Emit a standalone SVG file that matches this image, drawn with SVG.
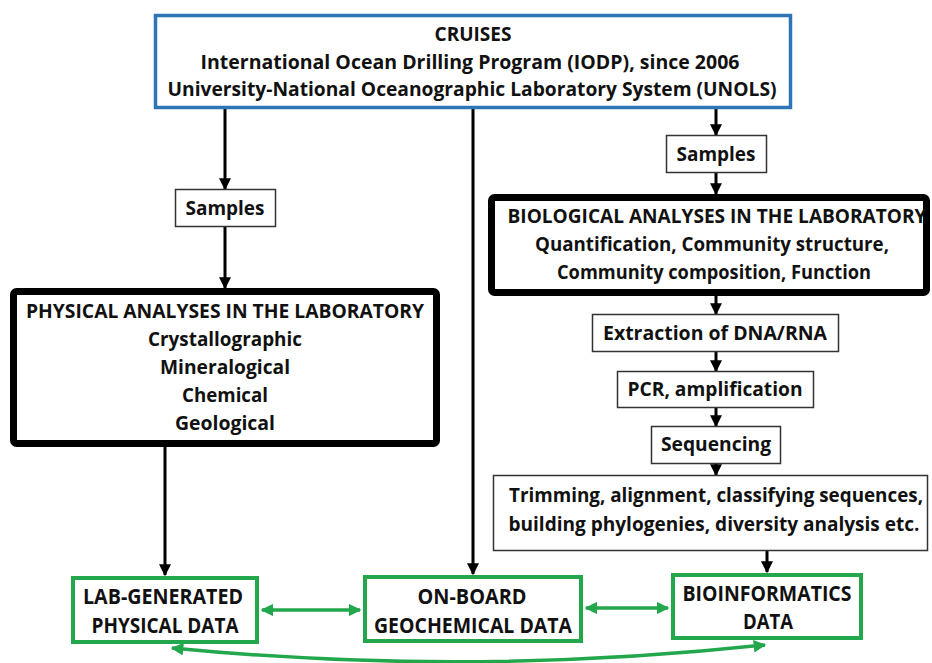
<svg xmlns="http://www.w3.org/2000/svg" width="932" height="663" viewBox="0 0 932 663">
<style>
text{font-family:"Open Sans",Lato,"Liberation Sans",sans-serif;font-weight:bold;font-size:19px;fill:#111;text-anchor:middle}
.g{font-size:21px}
.thin{fill:#fff;stroke:#333;stroke-width:1.5}
.thick{fill:#fff;stroke:#000;stroke-width:7}
.blue{fill:#fff;stroke:#2E75B6;stroke-width:3.5}
.green{fill:#fff;stroke:#22A74C;stroke-width:4}
.ab{stroke:#000;stroke-width:3;fill:none;marker-end:url(#ah)}
.ag{stroke:#22A74C;stroke-width:3.5;fill:none;marker-end:url(#agh);marker-start:url(#agh)}
</style>
<defs>
<marker id="ah" viewBox="0 0 10 10" refX="9" refY="5" markerWidth="4" markerHeight="4" orient="auto" markerUnits="strokeWidth"><path d="M0,0 L10,5 L0,10 z" fill="#000"/></marker>
<marker id="agh" viewBox="0 0 10 10" refX="9" refY="5" markerWidth="3.6" markerHeight="3.6" orient="auto-start-reverse" markerUnits="strokeWidth"><path d="M0,0 L10,5 L0,10 z" fill="#22A74C"/></marker>
</defs>
<rect width="932" height="663" fill="#fff"/>
<g id="connectors">
<line class="ab" x1="225" y1="109" x2="225" y2="189"/>
<line class="ab" x1="225" y1="227" x2="225" y2="288"/>
<line class="ab" x1="165" y1="447" x2="165" y2="575"/>
<line class="ab" x1="473" y1="109" x2="473" y2="574"/>
<line class="ab" x1="716" y1="109" x2="716" y2="135"/>
<line class="ab" x1="716" y1="173" x2="716" y2="194"/>
<line class="ab" x1="716" y1="296" x2="716" y2="314"/>
<line class="ab" x1="716" y1="352" x2="716" y2="371"/>
<line class="ab" x1="716" y1="408" x2="716" y2="426"/>
<line class="ab" x1="716" y1="464" x2="716" y2="475"/>
<line class="ab" x1="767" y1="551" x2="767" y2="572"/>
<line class="ag" x1="262" y1="610" x2="360" y2="610"/>
<line class="ag" x1="586" y1="608" x2="668" y2="608"/>
<path class="ag" d="M172,648 Q468,677 765,645"/>
</g>
<g id="cruises">
<rect class="blue" x="155.5" y="15.5" width="635" height="92"/>
<text x="473" y="41">CRUISES</text>
<text x="470" y="69" textLength="539" lengthAdjust="spacingAndGlyphs">International Ocean Drilling Program (IODP), since 2006</text>
<text x="472" y="96" textLength="609" lengthAdjust="spacingAndGlyphs">University-National Oceanographic Laboratory System (UNOLS)</text>
</g>
<g id="samples-left">
<rect class="thin" x="175.5" y="189.5" width="100" height="37"/>
<text x="225" y="215" textLength="79" lengthAdjust="spacingAndGlyphs">Samples</text>
</g>
<g id="samples-right">
<rect class="thin" x="666.5" y="135.5" width="100" height="37"/>
<text x="716" y="161" textLength="79" lengthAdjust="spacingAndGlyphs">Samples</text>
</g>
<g id="physical">
<rect class="thick" x="13.5" y="291.5" width="423" height="152" rx="3"/>
<text x="225" y="318" textLength="398" lengthAdjust="spacingAndGlyphs">PHYSICAL ANALYSES IN THE LABORATORY</text>
<text x="225" y="346" textLength="154" lengthAdjust="spacingAndGlyphs">Crystallographic</text>
<text x="225" y="374" textLength="130" lengthAdjust="spacingAndGlyphs">Mineralogical</text>
<text x="225" y="402" textLength="86" lengthAdjust="spacingAndGlyphs">Chemical</text>
<text x="225" y="430" textLength="100" lengthAdjust="spacingAndGlyphs">Geological</text>
</g>
<g id="biological">
<rect class="thick" x="491.5" y="197.5" width="435" height="95" rx="3"/>
<text x="717" y="223" textLength="419" lengthAdjust="spacingAndGlyphs">BIOLOGICAL ANALYSES IN THE LABORATORY</text>
<text x="712" y="251" textLength="354" lengthAdjust="spacingAndGlyphs">Quantification, Community structure,</text>
<text x="714" y="279" textLength="314" lengthAdjust="spacingAndGlyphs">Community composition, Function</text>
</g>
<g id="extraction">
<rect class="thin" x="592.5" y="314.5" width="246" height="37"/>
<text x="715" y="340" textLength="224" lengthAdjust="spacingAndGlyphs">Extraction of DNA/RNA</text>
</g>
<g id="pcr">
<rect class="thin" x="617.5" y="371.5" width="196" height="36"/>
<text x="715" y="396" textLength="175" lengthAdjust="spacingAndGlyphs">PCR, amplification</text>
</g>
<g id="sequencing">
<rect class="thin" x="651.5" y="426.5" width="129" height="37"/>
<text x="716" y="451" textLength="110" lengthAdjust="spacingAndGlyphs">Sequencing</text>
</g>
<g id="trimming">
<rect class="thin" x="493.5" y="475.5" width="434" height="75"/>
<text x="716" y="502" textLength="414" lengthAdjust="spacingAndGlyphs">Trimming, alignment, classifying sequences,</text>
<text x="714" y="531" textLength="411" lengthAdjust="spacingAndGlyphs">building phylogenies, diversity analysis etc.</text>
</g>
<g id="lab-physical">
<rect class="green" x="73" y="578" width="184" height="64"/>
<text class="g" x="163" y="604" textLength="160" lengthAdjust="spacingAndGlyphs">LAB-GENERATED</text>
<text class="g" x="165" y="633" textLength="147" lengthAdjust="spacingAndGlyphs">PHYSICAL DATA</text>
</g>
<g id="onboard">
<rect class="green" x="365" y="577" width="216" height="64"/>
<text class="g" x="472" y="604" textLength="109" lengthAdjust="spacingAndGlyphs">ON-BOARD</text>
<text class="g" x="473" y="633" textLength="198" lengthAdjust="spacingAndGlyphs">GEOCHEMICAL DATA</text>
</g>
<g id="bioinformatics">
<rect class="green" x="673" y="575" width="188" height="63"/>
<text class="g" x="767" y="601" textLength="169" lengthAdjust="spacingAndGlyphs">BIOINFORMATICS</text>
<text class="g" x="768" y="629" textLength="50" lengthAdjust="spacingAndGlyphs">DATA</text>
</g>
</svg>
